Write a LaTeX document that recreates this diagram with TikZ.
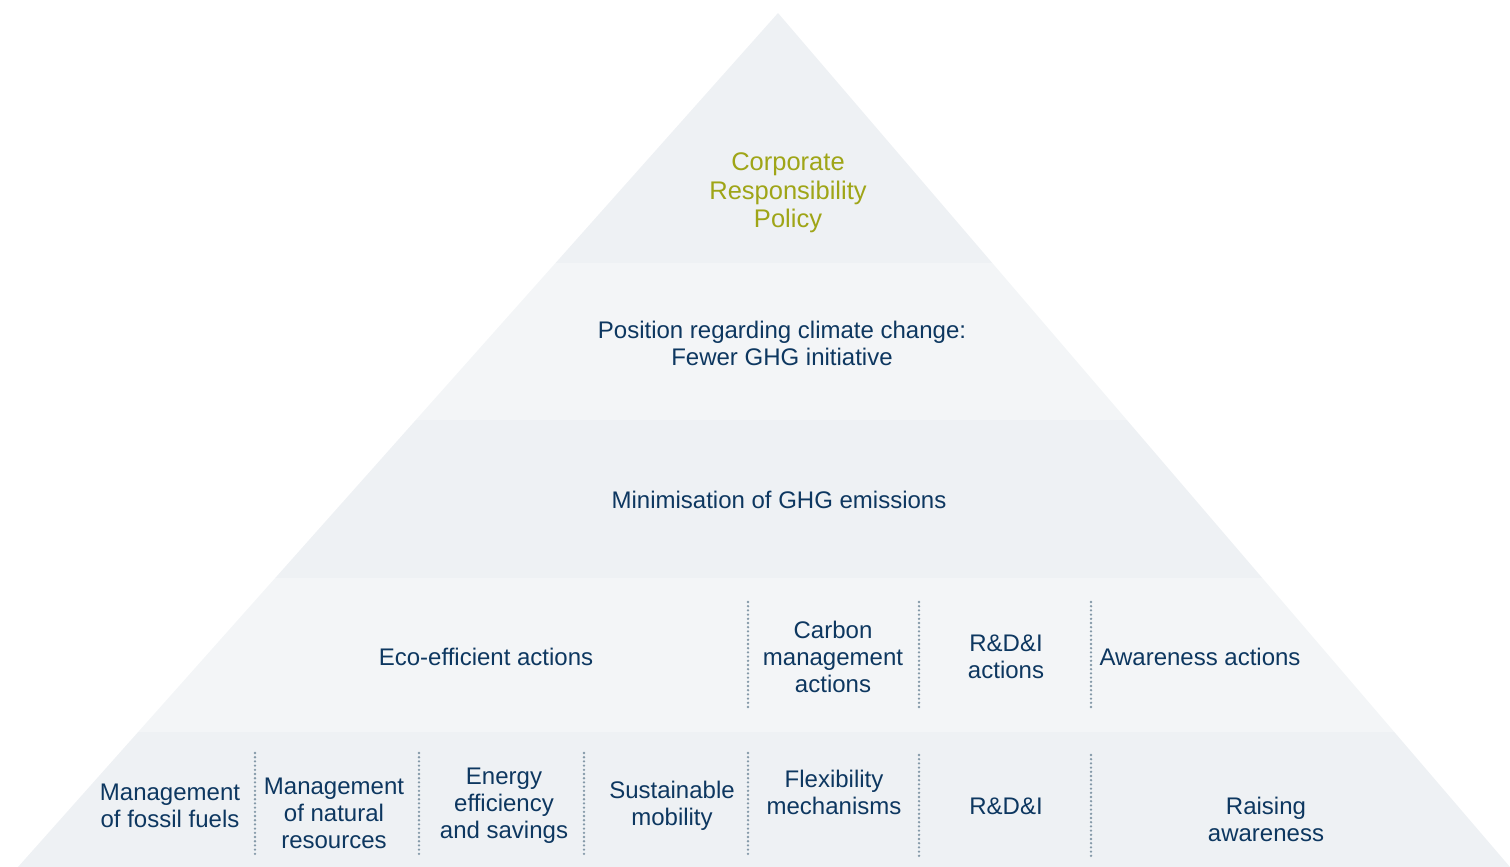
\documentclass[tikz,border=0pt]{standalone}
\usepackage{fontspec}
\setmainfont{Liberation Sans}
\definecolor{bandA}{HTML}{EEF1F4}
\definecolor{bandB}{HTML}{F3F5F7}
\definecolor{txt}{HTML}{0D3760}
\definecolor{olive}{HTML}{9FA517}
\definecolor{dotc}{HTML}{8499A8}
\tikzset{
  lbl/.style={text=txt, align=center, inner sep=0pt, font=\fontsize{24}{27}\selectfont},
  ttl/.style={lbl, text=olive, font=\fontsize{25.5}{28.5}\selectfont},
  sep/.style={draw=dotc, line width=2.6pt, line cap=round, dash pattern=on 0pt off 4.2pt}
}
\begin{document}
\begin{tikzpicture}[x=1pt,y=-1pt]
\useasboundingbox (0,0) rectangle (1510,867);
\begin{scope}
  \clip (778,13) -- (18,867) -- (1510,867) -- cycle;
  \fill[bandA] (0,0) rectangle (1510,263);
  \fill[bandB] (0,263) rectangle (1510,420);
  \fill[bandA] (0,420) rectangle (1510,578);
  \fill[bandB] (0,578) rectangle (1510,732);
  \fill[bandA] (0,732) rectangle (1510,867);
\end{scope}

\node[ttl] (crp) at (788,193) {Corporate\\Responsibility\\Policy};
\node[lbl] (pos) at (782,343) {Position regarding climate change:\\Fewer GHG initiative};
\node[lbl] (min) at (779,500) {Minimisation of GHG emissions};

\node[lbl] (eco) at (486,657) {Eco-efficient actions};
\node[lbl] (car) at (833,657) {Carbon\\management\\actions};
\node[lbl] (rda) at (1006,657) {R\&D\&I\\actions};
\node[lbl] (awa) at (1200,657) {Awareness actions};

\node[lbl] (fos) at (170,806) {Management\\of fossil fuels};
\node[lbl] (nat) at (334,813) {Management\\of natural\\resources};
\node[lbl] (ene) at (504,806) {Energy\\efficiency\\and savings};
\node[lbl] (mob) at (672,806) {Sustainable\\mobility};
\node[lbl] (fle) at (834,792) {Flexibility\\mechanisms};
\node[lbl] (rdi) at (1006,806) {R\&D\&I};
\node[lbl] (rai) at (1266,819) {Raising\\awareness};

\foreach \x in {748,919,1091} \draw[sep] (\x,602) -- (\x,710);
\foreach \x in {255,419,584,748} \draw[sep] (\x,753) -- (\x,857);
\foreach \x in {919,1091} \draw[sep] (\x,755) -- (\x,857);
\end{tikzpicture}
\end{document}
